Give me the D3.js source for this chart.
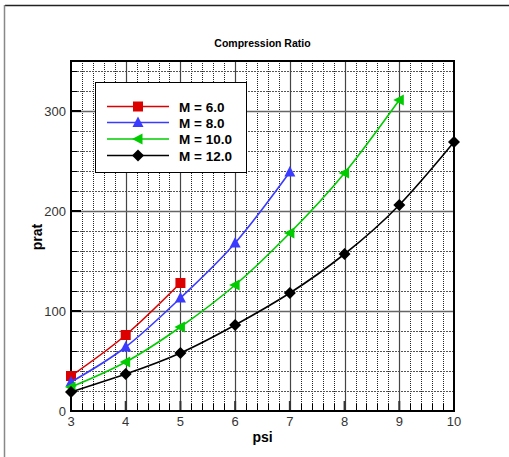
<!DOCTYPE html>
<html>
<head>
    <title>Compression Ratio</title>
    <style>
        html, body { margin: 0; padding: 0; background: #fff; }
        svg { display: block; }
        .tick-label { font-family: "Liberation Sans", Arial, sans-serif; font-size: 13px; fill: #333; }
    </style>
    <script src="https://d3js.org/d3.v7.min.js"></script>
</head>
<body>
    <svg id="chart" width="509" height="457"></svg>
<script>
// data
const psiVals = [3, 4, 5, 6, 7, 8, 9, 10];
const pratM6 = [35, 76, 128];
const pratM8 = [29, 64, 113, 168, 239];
const pratM10 = [24, 49, 84, 126, 178, 238, 311];
const pratM12 = [19, 37, 58, 86, 118, 157, 206, 269];
const seriesNames = ["M = 6.0", "M = 8.0", "M = 10.0", "M = 12.0"];
const xTicks = [3, 4, 5, 6, 7, 8, 9, 10];
const yTicks = [0, 100, 200, 300];

const series = [
    { name: seriesNames[0], vals: pratM6, color: "#dd0000", marker: "square" },
    { name: seriesNames[1], vals: pratM8, color: "#3b3bff", marker: "up" },
    { name: seriesNames[2], vals: pratM10, color: "#00cc00", marker: "left" },
    { name: seriesNames[3], vals: pratM12, color: "#000000", marker: "diamond" }
];

const svg = d3.select("#chart");
const pLeft = 71, pRight = 454, pTop = 61, pBottom = 411;

const x = d3.scaleLinear().domain([3, 10]).range([pLeft, pRight]);
const y = d3.scaleLinear().domain([0, 350]).range([pBottom, pTop]);

// outer frame
svg.append("line").attr("x1", 5).attr("x2", 509).attr("y1", 5.5).attr("y2", 5.5)
    .attr("stroke", "#222").attr("stroke-width", 1.5);
svg.append("line").attr("x1", 4.5).attr("x2", 4.5).attr("y1", 5).attr("y2", 457)
    .attr("stroke", "#888").attr("stroke-width", 1.5);

// title
svg.append("text")
    .attr("x", (pLeft + pRight) / 2).attr("y", 47)
    .attr("text-anchor", "middle")
    .attr("font-family", "Liberation Sans, Arial, sans-serif")
    .attr("font-weight", "bold").attr("font-size", "10.5px")
    .text("Compression Ratio");

const g = svg.append("g");

// minor grid
const xMinor = d3.range(3, 10.001, 0.2).filter(v => Math.abs(v - Math.round(v)) > 0.01);
const yMinor = d3.range(0, 350.001, 20).filter(v => v % 100 !== 0);
g.selectAll(".xminor").data(xMinor).enter().append("line")
    .attr("x1", d => Math.round(x(d)) + 0.5).attr("x2", d => Math.round(x(d)) + 0.5)
    .attr("y1", pTop).attr("y2", pBottom)
    .attr("stroke", "#222").attr("stroke-width", 1).attr("stroke-dasharray", "1,1");
g.selectAll(".yminor").data(yMinor).enter().append("line")
    .attr("x1", pLeft).attr("x2", pRight)
    .attr("y1", d => Math.round(y(d)) + 0.5).attr("y2", d => Math.round(y(d)) + 0.5)
    .attr("stroke", "#555").attr("stroke-width", 1).attr("stroke-dasharray", "2,1");

// major grid
g.selectAll(".xmajor").data(xTicks.slice(1, -1)).enter().append("line")
    .attr("x1", d => Math.round(x(d)) + 0.5).attr("x2", d => Math.round(x(d)) + 0.5)
    .attr("y1", pTop).attr("y2", pBottom)
    .attr("stroke", "#444").attr("stroke-width", 1.2);
g.selectAll(".ymajor").data(yTicks.slice(1)).enter().append("line")
    .attr("x1", pLeft).attr("x2", pRight)
    .attr("y1", d => Math.round(y(d)) + 0.5).attr("y2", d => Math.round(y(d)) + 0.5)
    .attr("stroke", "#666").attr("stroke-width", 1.5);

// ticks inside the frame
g.selectAll(".xmt").data(xMinor).enter().append("line")
    .attr("x1", d => Math.round(x(d)) + 0.5).attr("x2", d => Math.round(x(d)) + 0.5)
    .attr("y1", pBottom).attr("y2", pBottom - 7)
    .attr("stroke", "#000").attr("stroke-width", 1);
g.selectAll(".xMt").data(xTicks).enter().append("line")
    .attr("x1", d => x(d)).attr("x2", d => x(d))
    .attr("y1", pBottom).attr("y2", pBottom - 10)
    .attr("stroke", "#333").attr("stroke-width", 2);
g.selectAll(".ymt").data(yMinor).enter().append("line")
    .attr("x1", pLeft).attr("x2", pLeft + 6)
    .attr("y1", d => Math.round(y(d)) + 0.5).attr("y2", d => Math.round(y(d)) + 0.5)
    .attr("stroke", "#000").attr("stroke-width", 1);
g.selectAll(".yMt").data(yTicks).enter().append("line")
    .attr("x1", pLeft).attr("x2", pLeft + 10)
    .attr("y1", d => y(d)).attr("y2", d => y(d))
    .attr("stroke", "#000").attr("stroke-width", 2);

// plot frame
g.append("rect")
    .attr("x", pLeft).attr("y", pTop)
    .attr("width", pRight - pLeft).attr("height", pBottom - pTop)
    .attr("fill", "none").attr("stroke", "#000").attr("stroke-width", 2);

// tick labels
svg.selectAll(".xl").data(xTicks).enter().append("text")
    .attr("class", "tick-label")
    .attr("x", d => x(d)).attr("y", pBottom + 15)
    .attr("text-anchor", "middle")
    .text(d => d);
svg.selectAll(".yl").data(yTicks).enter().append("text")
    .attr("class", "tick-label")
    .attr("x", pLeft - 5).attr("y", d => y(d) + 5)
    .attr("text-anchor", "end")
    .text(d => d);

// axis titles
svg.append("text")
    .attr("x", (pLeft + pRight) / 2).attr("y", 442)
    .attr("text-anchor", "middle")
    .attr("font-family", "Liberation Sans, Arial, sans-serif")
    .attr("font-weight", "bold").attr("font-size", "14px")
    .text("psi");
svg.append("text")
    .attr("transform", "translate(42,237) rotate(-90)")
    .attr("text-anchor", "middle")
    .attr("font-family", "Liberation Sans, Arial, sans-serif")
    .attr("font-weight", "bold").attr("font-size", "14px")
    .text("prat");

// markers
function markerPath(type) {
    if (type === "square") return "M-5,-5H5V5H-5Z";
    if (type === "up") return "M0,-6L5.5,4.5H-5.5Z";
    if (type === "left") return "M-6,0L4.5,-5.5V5.5Z";
    return "M0,-6L6,0L0,6L-6,0Z";
}

const line = d3.line()
    .x((d, i) => x(psiVals[i]))
    .y(d => y(d))
    .curve(d3.curveNatural);

series.forEach(s => {
    g.append("path")
        .datum(s.vals)
        .attr("d", line)
        .attr("fill", "none")
        .attr("stroke", s.color)
        .attr("stroke-width", 1.6);
    g.selectAll(null).data(s.vals).enter().append("path")
        .attr("transform", (d, i) => "translate(" + x(psiVals[i]) + "," + y(d) + ")")
        .attr("d", markerPath(s.marker))
        .attr("fill", s.color);
});

// legend
const lg = svg.append("g");
lg.append("rect")
    .attr("x", 95.5).attr("y", 82.5).attr("width", 151).attr("height", 90)
    .attr("fill", "#fff").attr("stroke", "#000").attr("stroke-width", 1);
const rowY = [106.5, 122.5, 139, 155.5];
series.forEach((s, i) => {
    lg.append("line")
        .attr("x1", 107).attr("x2", 169).attr("y1", rowY[i]).attr("y2", rowY[i])
        .attr("stroke", s.color).attr("stroke-width", 1.6);
    lg.append("path")
        .attr("transform", "translate(138," + rowY[i] + ")")
        .attr("d", markerPath(s.marker))
        .attr("fill", s.color);
    lg.append("text")
        .attr("x", 179).attr("y", rowY[i] + 5)
        .attr("font-family", "Liberation Sans, Arial, sans-serif")
        .attr("font-weight", "bold").attr("font-size", "13.5px")
        .attr("fill", "#000")
        .text(s.name);
});
</script>
</body>
</html>
